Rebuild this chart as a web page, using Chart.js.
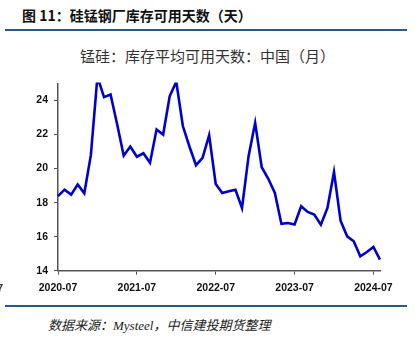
<!DOCTYPE html>
<html>
<head>
<meta charset="utf-8">
<script src="https://cdn.jsdelivr.net/npm/chart.js@4"></script>
<style>
  body { margin: 0; width: 415px; height: 339px; background: #fff; position: relative; overflow: hidden; }
  .head { position: absolute; left: 22px; top: 5px; font: bold 14px "Noto Sans CJK SC"; color: #111; line-height: 20px; }
  .rule { position: absolute; left: 5px; width: 402px; height: 2px; background: #2b5a8a; }
  .sub { position: absolute; left: 0; width: 415px; top: 45px; text-align: center; font: 15px "Noto Sans CJK SC"; color: #333; line-height: 22px; }
  .src { position: absolute; left: 48px; top: 317px; font: italic 13px "Liberation Serif", "Noto Sans CJK SC"; color: #222; line-height: 18px; }
  .edge { position: absolute; left: -3px; top: 282px; font: bold 11px "Liberation Sans"; color: #333; }
  #wrap { position: absolute; left: 0; top: 70px; width: 415px; height: 230px; }
</style>
</head>
<body>
<div class="head">图 11：硅锰钢厂库存可用天数（天）</div>
<div class="rule" style="top:29px"></div>
<div class="sub">锰硅：库存平均可用天数：中国（月）</div>
<div id="wrap"><canvas id="myChart" width="415" height="230"></canvas></div>
<div class="rule" style="top:305px"></div>
<div class="src">数据来源：Mysteel，中信建投期货整理</div>
<div class="edge">7</div>
<script>
// months 2020-07 .. 2024-08
let months = [
  "2020-07","2020-08","2020-09","2020-10","2020-11","2020-12",
  "2021-01","2021-02","2021-03","2021-04","2021-05","2021-06",
  "2021-07","2021-08","2021-09","2021-10","2021-11","2021-12",
  "2022-01","2022-02","2022-03","2022-04","2022-05","2022-06",
  "2022-07","2022-08","2022-09","2022-10","2022-11","2022-12",
  "2023-01","2023-02","2023-03","2023-04","2023-05","2023-06",
  "2023-07","2023-08","2023-09","2023-10","2023-11","2023-12",
  "2024-01","2024-02","2024-03","2024-04","2024-05","2024-06",
  "2024-07","2024-08"
];
let days = [
  18.38, 18.76, 18.47, 19.06, 18.55, 20.79,
  25.4, 24.2, 24.35, 22.6, 20.76, 21.3,
  20.7, 20.9, 20.34, 22.3, 22.0, 24.26,
  25.1, 22.5, 21.3, 20.2, 20.63, 21.96,
  19.1, 18.57, 18.67, 18.76, 17.69, 20.73,
  22.69, 20.08, 19.4, 18.57, 16.75, 16.8,
  16.72, 17.79, 17.45, 17.3, 16.7, 17.69,
  19.8, 16.94, 16.02, 15.73, 14.85, 15.1,
  15.4, 14.65
];
let yTicks = [14, 16, 18, 20, 22, 24];

const ctx = document.getElementById("myChart").getContext("2d");
const axisColor = "#555";
const tickFont = { family: "Liberation Sans", size: 10.5, weight: "bold" };

new Chart(ctx, {
  type: "line",
  data: {
    labels: months,
    datasets: [
      {
        data: days,
        borderColor: "#0000cc",
        borderWidth: 2.6,
        pointRadius: 0,
        tension: 0,
        clip: 1,
      },
    ],
  },
  options: {
    responsive: false,
    animation: false,
    layout: { padding: { top: 13.5, right: 35, left: 0, bottom: 0 } },
    plugins: { legend: { display: false }, tooltip: { enabled: false } },
    scales: {
      x: {
        offset: false,
        grid: { display: true, drawOnChartArea: false, drawTicks: true, tickLength: 4, color: axisColor },
        border: { display: true, color: axisColor, width: 1.5 },
        ticks: {
          autoSkip: false,
          maxRotation: 0,
          color: "#111",
          font: tickFont,
          padding: 7,
          callback: function (v, i) {
            return months[i].endsWith("-07") ? months[i] : null;
          },
        },
        afterFit: function (s) { s.height = 29.3; },
      },
      y: {
        min: 14,
        max: 25,
        afterBuildTicks: function (s) { s.ticks = yTicks.map((v) => ({ value: v })); },
        grid: { display: true, drawOnChartArea: false, drawTicks: true, tickLength: 4, color: axisColor },
        border: { display: true, color: axisColor, width: 1.5 },
        ticks: { color: "#111", font: tickFont, padding: 6 },
        afterFit: function (s) { s.width = 58; },
      },
    },
  },
});
</script>
</body>
</html>
